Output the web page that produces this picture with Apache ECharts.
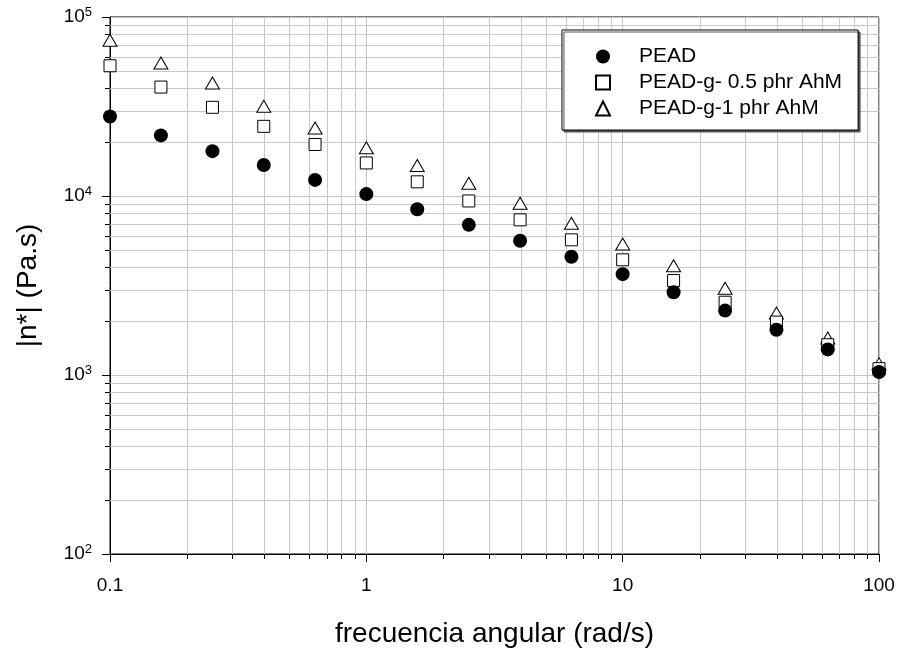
<!DOCTYPE html>
<html>
<head>
<meta charset="utf-8">
<script src="https://cdn.jsdelivr.net/npm/echarts@6/dist/echarts.min.js"></script>
<style>
    html, body { margin: 0; padding: 0; background: #fff; }
    #chart { width: 901px; height: 653px; }
</style>
</head>
<body>
<div id="chart"></div>
<script>
    // frecuencia angular (rad/s)
    const freq = [0.1, 0.158, 0.251, 0.398, 0.631, 1, 1.58, 2.51, 3.98, 6.31, 10, 15.8, 25.1, 39.8, 63.1, 100];

    // |n*| (Pa.s)
    const pead = [27800, 21800, 17800, 14900, 12300, 10250, 8430, 6900, 5620, 4580, 3660, 2900, 2290, 1790, 1390, 1040];
    const peadG05 = [53400, 40600, 31300, 24500, 19400, 15300, 12000, 9380, 7360, 5690, 4400, 3370, 2550, 1975, 1476, 1085];
    const peadG1 = [74200, 55300, 42800, 31700, 24000, 18600, 14800, 11770, 9100, 7050, 5390, 4080, 3050, 2220, 1610, 1157];

    const seriesNames = ['PEAD', 'PEAD-g- 0.5 phr AhM', 'PEAD-g-1 phr AhM'];
    const xTickLabels = ['0.1', '1', '10', '100'];

    const xMin = 0.1, xMax = 100, yMin = 100, yMax = 100000;
    const minorSteps = [2, 3, 4, 5, 6, 7, 8, 9];

    // posiciones de la rejilla secundaria (2..9 por década)
    const xMinor = [];
    [0.1, 1, 10].forEach(function (d) {
        minorSteps.forEach(function (m) { xMinor.push([+(d * m).toPrecision(3), yMin]); });
    });
    const yMinor = [];
    [100, 1000, 10000].forEach(function (d) {
        minorSteps.forEach(function (m) { yMinor.push([xMin, d * m]); });
    });

    const font = 'Liberation Sans, Arial, sans-serif';
    const chart = echarts.init(document.getElementById('chart'));

    const pair = function (ys) {
        return freq.map(function (x, i) { return [x, ys[i]]; });
    };

    const crisp = function (v) { return Math.round(v) + 0.5; };

    const option = {
        animation: false,
        backgroundColor: '#fff',
        grid: {
            left: 110, right: 22, top: 17, bottom: 97,
            show: true, borderColor: '#000', borderWidth: 1, backgroundColor: 'transparent'
        },
        legend: {
            data: seriesNames,
            orient: 'vertical',
            left: 562, top: 30,
            padding: [16, 16, 11, 33],
            itemGap: 5,
            itemWidth: 14, itemHeight: 14,
            backgroundColor: '#fff',
            borderColor: '#000', borderWidth: 1,
            shadowColor: '#555', shadowBlur: 0, shadowOffsetX: 2, shadowOffsetY: 2,
            textStyle: { fontFamily: font, fontSize: 21, color: '#000', lineHeight: 21, padding: [0, 0, 0, 24] }
        },
        xAxis: {
            type: 'log', logBase: 10, min: xMin, max: xMax,
            name: 'frecuencia angular (rad/s)',
            nameLocation: 'middle', nameGap: 66,
            nameTextStyle: { fontFamily: font, fontSize: 28, color: '#000' },
            axisLine: { lineStyle: { color: '#000' } },
            axisTick: { length: 8, lineStyle: { color: '#000' } },
            axisLabel: {
                fontFamily: font, fontSize: 19, color: '#000', margin: 22,
                formatter: function (v) {
                    const i = Math.round(Math.log10(v) + 1);
                    return xTickLabels[i];
                }
            },
            splitLine: { show: true, lineStyle: { color: '#c4c4c4' } }
        },
        yAxis: {
            type: 'log', logBase: 10, min: yMin, max: yMax,
            name: '|n*| (Pa.s)',
            nameLocation: 'middle', nameGap: 68,
            nameTextStyle: { fontFamily: font, fontSize: 28, color: '#000' },
            axisLine: { lineStyle: { color: '#000' } },
            axisTick: { length: 8, lineStyle: { color: '#000' } },
            axisLabel: {
                fontFamily: font, fontSize: 19, color: '#000', margin: 18,
                formatter: function (v) {
                    const e = Math.round(Math.log10(v));
                    return '10{s|' + e + '}';
                },
                rich: {
                    s: { fontFamily: font, fontSize: 13, color: '#000', verticalAlign: 'top', padding: [0, 0, 9, 0] }
                }
            },
            splitLine: { show: true, lineStyle: { color: '#c4c4c4' } }
        },
        series: [
            {
                type: 'custom', silent: true, z: 1,
                data: xMinor,
                renderItem: function (params, api) {
                    const lo = api.coord([api.value(0), yMin]);
                    const hi = api.coord([api.value(0), yMax]);
                    const x = crisp(lo[0]);
                    return {
                        type: 'group', children: [
                            { type: 'line', shape: { x1: x, y1: lo[1], x2: x, y2: hi[1] }, style: { stroke: '#c8c8c8', lineWidth: 1 } },
                            { type: 'line', shape: { x1: x, y1: lo[1], x2: x, y2: lo[1] + 5 }, style: { stroke: '#000', lineWidth: 1 } }
                        ]
                    };
                }
            },
            {
                type: 'custom', silent: true, z: 1,
                data: yMinor,
                renderItem: function (params, api) {
                    const lo = api.coord([xMin, api.value(1)]);
                    const hi = api.coord([xMax, api.value(1)]);
                    const y = crisp(lo[1]);
                    return {
                        type: 'group', children: [
                            { type: 'line', shape: { x1: lo[0], y1: y, x2: hi[0], y2: y }, style: { stroke: '#c8c8c8', lineWidth: 1 } },
                            { type: 'line', shape: { x1: lo[0] - 5, y1: y, x2: lo[0], y2: y }, style: { stroke: '#000', lineWidth: 1 } }
                        ]
                    };
                }
            },
            {
                name: seriesNames[0], type: 'scatter', z: 5,
                symbol: 'circle', symbolSize: 14,
                itemStyle: { color: '#000', opacity: 1 },
                data: pair(pead)
            },
            {
                name: seriesNames[1], type: 'scatter', z: 4,
                symbol: 'rect', symbolSize: 12,
                itemStyle: { color: '#fff', borderColor: '#000', borderWidth: 1, opacity: 1 },
                data: pair(peadG05)
            },
            {
                name: seriesNames[2], type: 'scatter', z: 3,
                symbol: 'triangle', symbolSize: [14, 12],
                itemStyle: { color: '#fff', borderColor: '#000', borderWidth: 1, opacity: 1 },
                data: pair(peadG1)
            }
        ]
    };
    chart.setOption(option);

    window.onresize = function () {
        chart.resize();
    };
</script>
</body>
</html>
